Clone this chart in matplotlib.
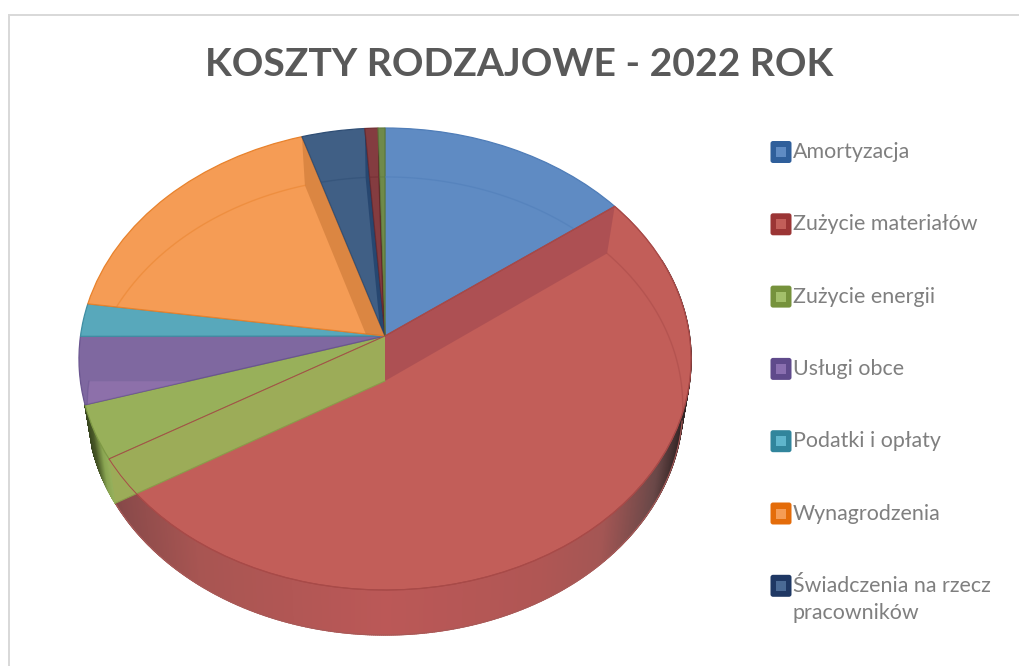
from __future__ import annotations

import matplotlib

matplotlib.use("Agg")

import matplotlib.pyplot as plt
import numpy as np
from matplotlib.collections import PolyCollection
from matplotlib.colors import to_rgb
from matplotlib.patches import FancyBboxPatch, Rectangle, Wedge
from matplotlib.transforms import Transform

TITLE = "KOSZTY RODZAJOWE - 2022 ROK"
LEGEND_LABELS = [
    "Amortyzacja",
    "Zużycie materiałów",
    "Zużycie energii",
    "Usługi obce",
    "Podatki i opłaty",
    "Wynagrodzenia",
    "Świadczenia na rzecz\npracowników",
]
# last two slices have no legend entry in the picture
SHARES = [14.75, 51.75, 3.8, 4.7, 2.3, 17.9, 3.67, 0.76, 0.4]
TOP_COLORS = ["#5f8bc3", "#c25e59", "#98b05a", "#7f68a0", "#58a8bb", "#f59c55", "#405f85", "#843c40", "#6f8a4a"]
EDGE_COLORS = ["#4f7db8", "#a84a48", "#7f9a45", "#6a5590", "#3f8ea3", "#e8822c", "#2f4e75", "#6f2c30", "#5f7a3c"]
SWATCH_DARK = ["#2f5f9b", "#9b3535", "#76923c", "#5f4a8b", "#31859c", "#e46c0a", "#1f3864"]
SWATCH_LIGHT = ["#5f8bc3", "#c25e59", "#a3bf6a", "#8a6fb0", "#5fb5cc", "#f59c55", "#4a6a95"]


class DiskProjection(Transform):
    """Unit pie disk seen at an angle, apex in pixels."""

    input_dims = 2
    output_dims = 2
    is_separable = False

    def __init__(self, apex_x, apex_y, rx, ry, tilt):
        super().__init__()
        self.apex_x = apex_x
        self.apex_y = apex_y
        self.rx = rx
        self.ry = ry
        self.tilt = tilt

    def transform_non_affine(self, values):
        values = np.asarray(values, dtype=float)
        w = 1.0 + self.tilt * values[:, 1]
        return np.column_stack(
            [self.apex_x + self.rx * values[:, 0] / w, self.apex_y - self.ry * values[:, 1] / w]
        )


def unit(theta):
    rad = np.deg2rad(theta)
    return np.column_stack([np.cos(rad), np.sin(rad)])


def ramp(stops_u, stops_hex, u):
    rgb = np.array([to_rgb(c) for c in stops_hex])
    return np.column_stack([np.interp(u, stops_u, rgb[:, i]) for i in range(3)])


def side_wall(ax, top, floor, theta_a, theta_b, stops_u, stops_hex, zorder=1):
    grid = np.linspace(theta_a, theta_b, 500)
    upper = top.transform(unit(grid))
    lower = floor.transform(unit(grid))
    quads = [[upper[i], upper[i + 1], lower[i + 1], lower[i]] for i in range(len(grid) - 1)]
    u = (lower[:-1, 0] - 385.0) / 306.0
    colors = ramp(stops_u, stops_hex, u)
    ax.add_collection(PolyCollection(quads, facecolors=colors, edgecolors=colors, linewidths=1.0, zorder=zorder))


def inner_wall(ax, top, floor, theta, clip, color, alpha, zorder=3):
    rim = unit(np.array([theta]))
    center = np.zeros((1, 2))
    pts = np.vstack([top.transform(center), top.transform(rim), floor.transform(rim), floor.transform(center)])
    patch, = ax.fill(pts[:, 0], pts[:, 1], color=color, alpha=alpha, lw=0, zorder=zorder)
    if clip is not None:
        patch.set_clip_path(clip)
    return pts


def main():
    plt.rcParams["font.family"] = ["Lato", "DejaVu Sans"]
    fig = plt.figure(figsize=(10.19, 6.66), dpi=100)
    ax = fig.add_axes([0, 0, 1, 1])

    wedges, _ = ax.pie(SHARES, colors=TOP_COLORS, startangle=90, counterclock=False, labeldistance=None, frame=True)
    ax.set_aspect("auto")
    ax.set_xlim(0, 1019)
    ax.set_ylim(666, 0)
    ax.axis("off")

    top = DiskProjection(385.0, 336.0, 304.5, 228.7, 0.0996)
    floor = DiskProjection(385.0, 381.0, 296.0, 226.3, 0.109)

    for w, edge in zip(wedges, EDGE_COLORS):
        w.set_transform(top + ax.transData)
        w.set_edgecolor(edge)
        w.set_linewidth(0.9)
        w.set_zorder(2)

    red, green, purple, orange, navy, dark_red = wedges[1], wedges[2], wedges[3], wedges[5], wedges[6], wedges[7]

    # outer side of the cake, front part only
    side_wall(
        ax, top, floor, 20.0, red.theta1,
        [-1.0, -0.85, -0.6, 0.0, 0.5, 0.7, 0.87, 0.95, 1.0],
        ["#6a4040", "#8a4a4a", "#a85552", "#bb5857", "#b05654", "#a45654", "#6a4848", "#332525", "#332525"],
    )
    side_wall(
        ax, top, floor, green.theta1, green.theta2,
        [-0.96, -0.93, -0.90, -0.87],
        ["#33401c", "#4a5a28", "#8aa552", "#9cb560"],
    )

    # see-through walls of the slices
    inner_wall(ax, top, floor, red.theta2, red, "#7a2f44", 0.28)
    inner_wall(ax, top, floor, orange.theta1, orange, "#b8682a", 0.42)
    inner_wall(ax, top, floor, navy.theta1, navy, "#14345f", 0.55)
    inner_wall(ax, top, floor, dark_red.theta1, dark_red, "#4a1018", 0.5)

    # floor of the purple slice shows through lighter
    lighter = Wedge((0, 0), 1, purple.theta1, purple.theta2, transform=floor + ax.transData,
                    facecolor="#c090d0", alpha=0.22, lw=0, zorder=3)
    ax.add_patch(lighter)
    lighter.set_clip_path(purple)

    # floor rim seen through the top, each arc inside its own slice
    for w, edge in zip(wedges, EDGE_COLORS):
        arc = floor.transform(unit(np.linspace(w.theta1, w.theta2, 120)))
        rim, = ax.plot(arc[:, 0], arc[:, 1], color=edge, alpha=0.5, lw=1.0, zorder=3)
        rim.set_clip_path(w)

    # green wall lies over the red top
    pts = inner_wall(ax, top, floor, green.theta2, None, "#9cac58", 1.0, zorder=4)
    ax.plot(pts[2:, 0], pts[2:, 1], color="#8a9c4a", lw=0.8, zorder=5)
    outline = Wedge((0, 0), 1, red.theta1, red.theta2, transform=top + ax.transData,
                    fill=False, edgecolor="#a84a48", lw=0.7, zorder=5)
    ax.add_patch(outline)
    # front rim of the floor
    ax.plot(*floor.transform(unit(np.linspace(-149.0, -10.0, 200))).T, color="#a85a58", lw=0.8, zorder=5)

    # chart frame, only top and left are in the picture
    ax.add_patch(Rectangle((8.5, 14), 1010.5, 2.2, facecolor="#d9d9d9", lw=0))
    ax.add_patch(Rectangle((8.5, 14), 2.0, 652, facecolor="#d9d9d9", lw=0))

    ax.text(519, 64, TITLE, ha="center", va="center", fontsize=28.2, fontweight="bold", color="#595959")

    for i, label in enumerate(LEGEND_LABELS):
        cy = 152.0 + i * 72.3
        ax.add_patch(FancyBboxPatch((771, cy - 10.5), 20, 21, boxstyle="round,pad=0.5,rounding_size=2.5",
                                    facecolor=SWATCH_DARK[i], lw=0))
        ax.add_patch(Rectangle((776.5, cy - 5), 10, 10, facecolor=SWATCH_LIGHT[i], lw=0))
        ax.text(793, cy - 10, label, ha="left", va="top", fontsize=15.4, color="#7f7f7f", linespacing=1.45)

    fig.savefig("out.png", dpi=100)
    plt.close(fig)


if __name__ == "__main__":
    main()
